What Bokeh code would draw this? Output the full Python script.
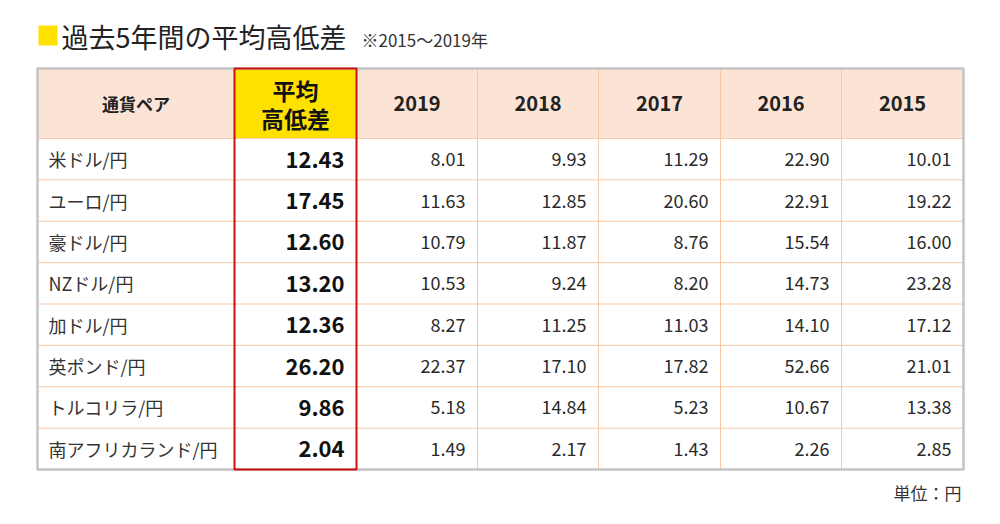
from bokeh.plotting import figure
from bokeh.core.properties import value
from bokeh.embed import file_html
from bokeh.resources import INLINE

title = "過去5年間の平均高低差"
subtitle = "※2015～2019年"
unit_note = "単位：円"
header = ["通貨ペア", "平均\n高低差", "2019", "2018", "2017", "2016", "2015"]
pairs = ["米ドル/円", "ユーロ/円", "豪ドル/円", "NZドル/円", "加ドル/円",
         "英ポンド/円", "トルコリラ/円", "南アフリカランド/円"]
avg = [12.43, 17.45, 12.60, 13.20, 12.36, 26.20, 9.86, 2.04]
y2019 = [8.01, 11.63, 10.79, 10.53, 8.27, 22.37, 5.18, 1.49]
y2018 = [9.93, 12.85, 11.87, 9.24, 11.25, 17.10, 14.84, 2.17]
y2017 = [11.29, 20.60, 8.76, 8.20, 11.03, 17.82, 5.23, 1.43]
y2016 = [22.90, 22.91, 15.54, 14.73, 14.10, 52.66, 10.67, 2.26]
y2015 = [10.01, 19.22, 16.00, 23.28, 17.12, 21.01, 13.38, 2.85]
year_cols = [y2019, y2018, y2017, y2016, y2015]

W, H = 984, 508
col_edges = [37, 234, 356, 477, 598, 720, 841, 963]
top = 68
head_bot = 138
bottom = 469
nrows = len(pairs)
rh = (bottom - head_bot) / nrows

JP = "Noto Sans CJK JP"
BORDER = "#f6c8a8"
PEACH = "#fbe4d5"

p = figure(width=W, height=H, x_range=(0, W), y_range=(H, 0),
           output_backend="svg", toolbar_location=None, min_border=0)
p.axis.visible = False
p.grid.visible = False
p.outline_line_color = None
p.background_fill_color = "white"

# header background
p.quad(left=[col_edges[0]], right=[col_edges[-1]], top=[top], bottom=[head_bot],
       fill_color=PEACH, line_color=None)
p.quad(left=[col_edges[1]], right=[col_edges[2]], top=[top], bottom=[head_bot],
       fill_color="#ffe100", line_color=None)

# grid lines
xs, ys = [], []
for e in col_edges[2:-1]:
    xs.append([e, e]); ys.append([top, bottom])
for i in range(nrows):
    yy = head_bot + i * rh
    xs.append([col_edges[0], col_edges[-1]]); ys.append([yy, yy])
p.multi_line(xs=xs, ys=ys, line_color=BORDER, line_width=1)

# outer border
p.quad(left=[col_edges[0]], right=[col_edges[-1]], top=[top], bottom=[bottom],
       fill_color=None, line_color="#c4c4c4", line_width=2.5)
# red highlight
p.quad(left=[col_edges[1]], right=[col_edges[2]], top=[top], bottom=[bottom],
       fill_color=None, line_color="#cc1111", line_width=2)

# header texts
mid = (top + head_bot) / 2
p.text(x=[(col_edges[0] + col_edges[1]) / 2], y=[mid], text=[header[0]], text_font=value(JP),
       text_font_size="17px", text_font_style="bold", text_align="center",
       text_baseline="middle", text_color="#222222")
p.text(x=[(col_edges[j] + col_edges[j + 1]) / 2 for j in range(2, 7)], y=[mid] * 5,
       text=header[2:], text_font=value(JP), text_font_size="20px",
       text_font_style="bold", text_align="center", text_baseline="middle", text_color="#222222")
cx = (col_edges[1] + col_edges[2]) / 2
p.text(x=[cx, cx], y=[mid - 14, mid + 14],
       text=header[1].split("\n"), text_font=value(JP), text_font_size="23px",
       text_font_style="bold", text_align="center", text_baseline="middle", text_color="#111111")

# body
rows_y = [head_bot + (i + 0.5) * rh for i in range(nrows)]
p.text(x=[col_edges[0] + 11] * nrows, y=rows_y, text=pairs, text_font=value(JP),
       text_font_size="18px", text_align="left", text_baseline="middle", text_color="#333333")
p.text(x=[col_edges[2] - 12] * nrows, y=rows_y, text=[f"{v:.2f}" for v in avg],
       text_font=value(JP), text_font_size="22px", text_font_style="bold",
       text_align="right", text_baseline="middle", text_color="#111111")
for j, col in enumerate(year_cols):
    p.text(x=[col_edges[j + 3] - 12] * nrows, y=rows_y, text=[f"{v:.2f}" for v in col],
           text_font=value(JP), text_font_size="18px", text_align="right",
           text_baseline="middle", text_color="#2a2a2a")

# title
p.quad(left=[38], right=[57], top=[25], bottom=[45],
       fill_color="#ffe100", line_color=None)
p.text(x=[61], y=[36], text=[title], text_font=value(JP), text_font_size="27px",
       text_align="left", text_baseline="middle", text_color="#222222")
p.text(x=[361], y=[39], text=[subtitle], text_font=value(JP), text_font_size="17px",
       text_align="left", text_baseline="middle", text_color="#333333")
p.text(x=[col_edges[-1] - 2], y=[492], text=[unit_note], text_font=value(JP),
       text_font_size="17px", text_align="right", text_baseline="middle", text_color="#333333")

open("out.html", "w").write(file_html(p, INLINE))
